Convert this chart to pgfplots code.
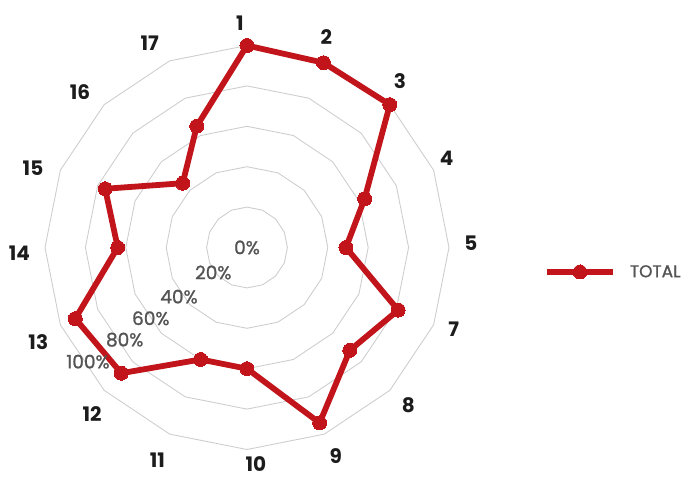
\documentclass[border=0pt]{standalone}
\usepackage{pgfplots}
\pgfplotsset{compat=1.18}
\usepackage{pgfplotstable}
\usepgfplotslibrary{polar}
\usepackage{fontspec}
\setmainfont{Poppins}
\newfontfamily\pmed[FakeBold=1.2]{Poppins}
\definecolor{radred}{RGB}{194,20,27}
\definecolor{gridc}{RGB}{206,206,206}
\definecolor{tickc}{RGB}{84,84,84}
\definecolor{labc}{RGB}{28,28,28}
\tikzset{
  catlab/.style={font=\fontsize{20}{20}\selectfont\bfseries, text=labc, anchor=center, inner sep=0pt},
  pctlab/.style={font=\pmed\fontsize{18.5}{19}\selectfont, text=tickc, anchor=center, inner sep=0pt},
}

% category order clockwise from the top: 1,2,3,4,5,7,...,17
\pgfplotstableread{
a v
90 100
67.5 99
45 100
22.5 63
0 49
337.5 81
315 72
292.5 94
270 60
247.5 60
225 88
202.5 92
180 64
157.5 76
135 45
112.5 65
90 100
}\datatable

\pgfplotstableread{
a r20 r40 r60 r80 r100
0 20 40 60 80 100
22.5 20 40 60 80 100
45 20 40 60 80 100
67.5 20 40 60 80 100
90 20 40 60 80 100
112.5 20 40 60 80 100
135 20 40 60 80 100
157.5 20 40 60 80 100
180 20 40 60 80 100
202.5 20 40 60 80 100
225 20 40 60 80 100
247.5 20 40 60 80 100
270 20 40 60 80 100
292.5 20 40 60 80 100
315 20 40 60 80 100
337.5 20 40 60 80 100
360 20 40 60 80 100
}\ringtable

\begin{document}
\begin{tikzpicture}
\useasboundingbox (-247pt,-232.5pt) rectangle (439pt,247.5pt);
\begin{polaraxis}[
  at={(0,0)}, anchor=center,
  scale only axis, width=404pt, height=404pt,
  xmin=0, xmax=360, ymin=0, ymax=100,
  xtick=\empty, ytick=\empty,
  axis line style={draw=none},
  clip=false,
  legend style={at={(1.235,0.4394)}, anchor=west, draw=none, fill=none,
    inner sep=0pt, column sep=14pt, nodes={inner sep=0pt},
    font=\pmed\fontsize{17}{17}\selectfont, text=tickc},
  legend image code/.code={%
    \draw[mark repeat=2,mark phase=2,#1] plot coordinates {(0pt,0pt) (33pt,0pt) (66pt,0pt)};},
]
\addplot[gridc, line width=0.9pt, no marks, forget plot] table[x=a, y=r20] {\ringtable};
\addplot[gridc, line width=0.9pt, no marks, forget plot] table[x=a, y=r40] {\ringtable};
\addplot[gridc, line width=0.9pt, no marks, forget plot] table[x=a, y=r60] {\ringtable};
\addplot[gridc, line width=0.9pt, no marks, forget plot] table[x=a, y=r80] {\ringtable};
\addplot[gridc, line width=0.9pt, no marks, forget plot] table[x=a, y=r100] {\ringtable};

\addplot[radred, line width=5.8pt, line join=round, mark=*, mark size=7pt,
  mark options={solid, line width=0pt, fill=radred, draw=radred}] table[x=a, y=v] {\datatable};
\addlegendentry{TOTAL}

\node[pctlab] at (axis cs:0,0) {0\%};
\node[pctlab, xshift=-33.7pt, yshift=-25pt] at (axis cs:0,0) {20\%};
\node[pctlab, xshift=-68pt, yshift=-49.2pt] at (axis cs:0,0) {40\%};
\node[pctlab, xshift=-96.2pt, yshift=-70.8pt] at (axis cs:0,0) {60\%};
\node[pctlab, xshift=-122.3pt, yshift=-92.2pt] at (axis cs:0,0) {80\%};
\node[pctlab, xshift=-159pt, yshift=-114.2pt] at (axis cs:0,0) {100\%};

\node[catlab, xshift=-7pt, yshift=224.5pt] at (axis cs:0,0) {1};
\node[catlab, xshift=79.3pt, yshift=210.8pt] at (axis cs:0,0) {2};
\node[catlab, xshift=153pt, yshift=166.7pt] at (axis cs:0,0) {3};
\node[catlab, xshift=199.7pt, yshift=89.7pt] at (axis cs:0,0) {4};
\node[catlab, xshift=223.8pt, yshift=4.2pt] at (axis cs:0,0) {5};
\node[catlab, xshift=206.8pt, yshift=-81.3pt] at (axis cs:0,0) {7};
\node[catlab, xshift=161.3pt, yshift=-158pt] at (axis cs:0,0) {8};
\node[catlab, xshift=88.8pt, yshift=-208.3pt] at (axis cs:0,0) {9};
\node[catlab, xshift=8.8pt, yshift=-217pt] at (axis cs:0,0) {10};
\node[catlab, xshift=-89.5pt, yshift=-212.2pt] at (axis cs:0,0) {11};
\node[catlab, xshift=-154.8pt, yshift=-167pt] at (axis cs:0,0) {12};
\node[catlab, xshift=-208.7pt, yshift=-95pt] at (axis cs:0,0) {13};
\node[catlab, xshift=-227.5pt, yshift=-5.8pt] at (axis cs:0,0) {14};
\node[catlab, xshift=-214pt, yshift=79.2pt] at (axis cs:0,0) {15};
\node[catlab, xshift=-167pt, yshift=155pt] at (axis cs:0,0) {16};
\node[catlab, xshift=-97.3pt, yshift=204.2pt] at (axis cs:0,0) {17};
\end{polaraxis}
\end{tikzpicture}
\end{document}
